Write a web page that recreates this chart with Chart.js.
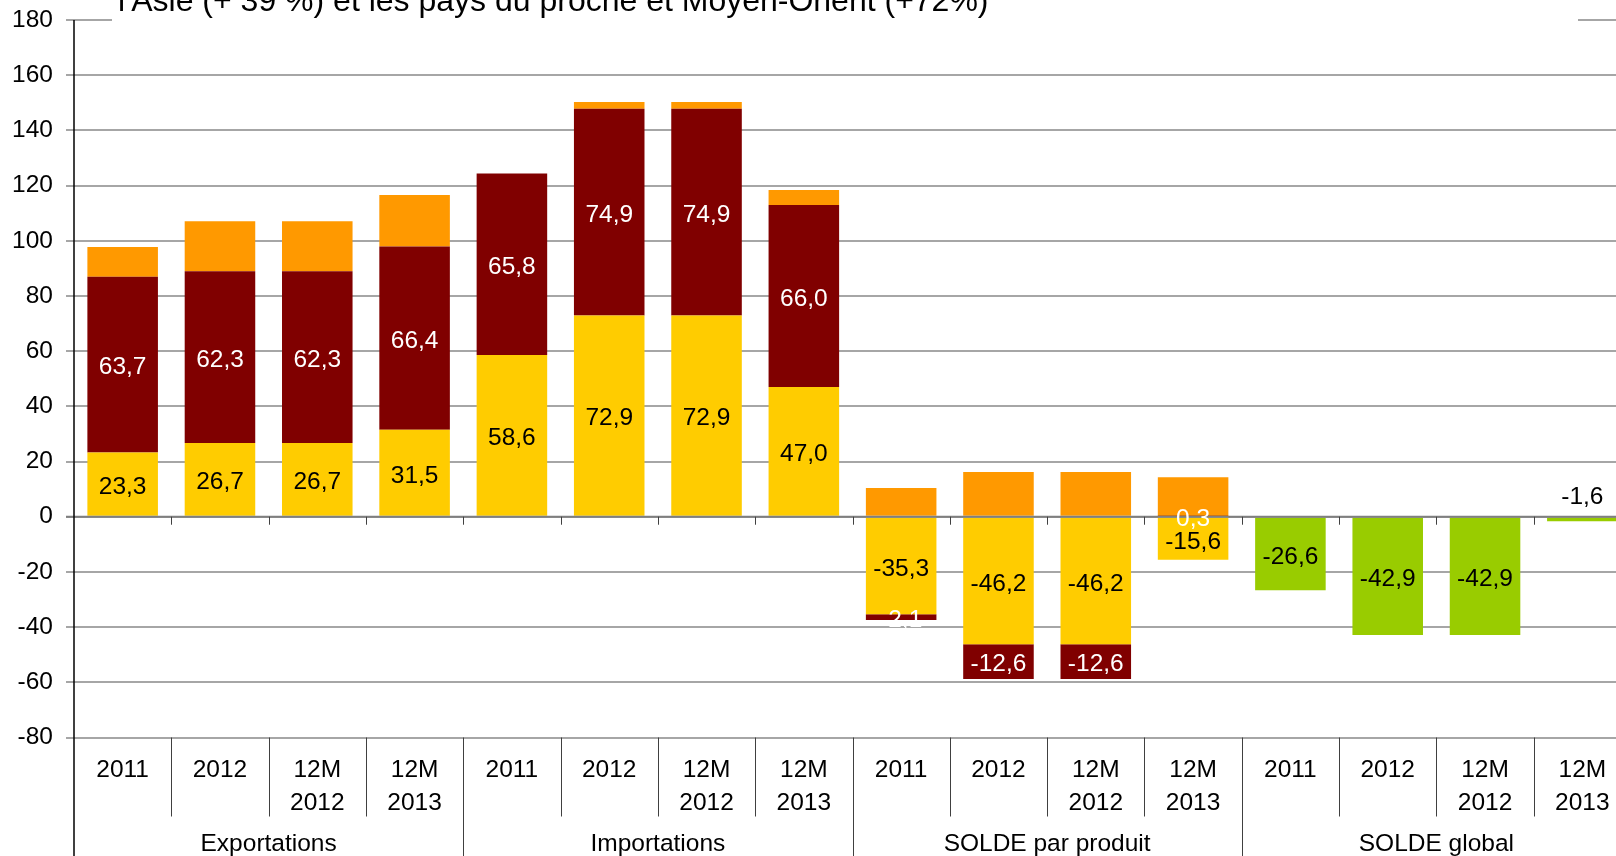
<!DOCTYPE html>
<html lang="fr">
<head>
<meta charset="utf-8">
<title>Échanges par produit</title>
<script src="https://cdn.jsdelivr.net/npm/chart.js@4.4.1/dist/chart.umd.min.js"></script>
<style>
    html, body { margin: 0; padding: 0; background: #ffffff; overflow: hidden; }
    #wrap { position: relative; width: 1616px; height: 856px; overflow: hidden; }
    canvas { display: block; }
</style>
</head>
<body>
<div id="wrap"><canvas id="chart-ctx" width="1631" height="856"></canvas></div>
<script>
// categories: 4 groups x 4 periods
const groupes = ["Exportations", "Importations", "SOLDE par produit", "SOLDE global"];
const periodes = ["2011", "2012", ["12M", "2012"], ["12M", "2013"]];

// stacked series, one value per category (null = no bar)
const serieJaune = [23.3, 26.7, 26.7, 31.5, 58.6, 72.9, 72.9, 47.0, -35.3, -46.2, -46.2, -15.6, null, null, null, null];
const serieBordeaux = [63.7, 62.3, 62.3, 66.4, 65.8, 74.9, 74.9, 66.0, -2.1, -12.6, -12.6, 0.3, null, null, null, null];
const serieOrange = [10.7, 18.1, 18.1, 18.7, 0, 2.5, 2.5, 5.4, 10.4, 16.2, 16.2, 14.0, null, null, null, null];
const soldeGlobal = [null, null, null, null, null, null, null, null, null, null, null, null, -26.6, -42.9, -42.9, -1.6];

// y axis ticks
const yMin = -80;
const yMax = 180;
const yStep = 20;

const titreLigne = "l'Asie (+ 39 %) et les pays du proche et Moyen-Orient (+72%)";

const labels = groupes.flatMap(() => periodes);
const couleursEtiquettes = ["#000000", "#ffffff", null, "#000000"];
const police = '"Liberation Sans", Arial, sans-serif';
const taille = 24.5;

function formatFr(v) {
    return v.toFixed(1).replace(".", ",");
}

const decorPlugin = {
    id: "decor",
    afterDatasetsDraw(chart) {
        const ctx = chart.ctx;
        const area = chart.chartArea;
        const yScale = chart.scales.y;
        const y0 = yScale.getPixelForValue(0);

        // zero line drawn over the bars
        ctx.save();
        ctx.strokeStyle = "#7f7f7f";
        ctx.lineWidth = 2;
        ctx.beginPath();
        ctx.moveTo(area.left - 8, y0);
        ctx.lineTo(area.right, y0);
        ctx.stroke();

        // small ticks under the zero line between categories
        const slot = (area.right - area.left) / labels.length;
        ctx.strokeStyle = "#404040";
        ctx.lineWidth = 1;
        for (let i = 1; i < labels.length; i++) {
            const x = Math.round(area.left + i * slot) + 0.5;
            ctx.beginPath();
            ctx.moveTo(x, y0);
            ctx.lineTo(x, y0 + 8);
            ctx.stroke();
        }

        // value labels
        ctx.font = taille + "px " + police;
        ctx.textAlign = "center";
        ctx.textBaseline = "middle";
        chart.data.datasets.forEach((ds, di) => {
            const color = couleursEtiquettes[di];
            if (!color) return;
            const meta = chart.getDatasetMeta(di);
            meta.data.forEach((bar, i) => {
                const v = ds.data[i];
                if (v === null || v === undefined) return;
                const p = bar.getProps(["x", "y", "base"], true);
                let cy = (p.y + p.base) / 2;
                // too thin for an inside label: put it above the axis
                if (di === 3 && Math.abs(p.base - p.y) < 20) {
                    cy = Math.min(p.y, p.base) - 23;
                }
                ctx.fillStyle = color;
                ctx.fillText(formatFr(v), p.x, cy + 3);
            });
        });
        ctx.restore();
    },
    afterDraw(chart) {
        const ctx = chart.ctx;
        const area = chart.chartArea;
        const H = chart.height;
        const slot = (area.right - area.left) / labels.length;

        ctx.save();
        // title box hides the top gridline
        ctx.fillStyle = "#ffffff";
        ctx.fillRect(112, 0, 1578 - 112, 24);
        ctx.fillStyle = "#000000";
        ctx.font = "32px " + police;
        ctx.textAlign = "left";
        ctx.textBaseline = "alphabetic";
        ctx.fillText(titreLigne, 118, 11);

        // left axis line down to the bottom
        ctx.strokeStyle = "#000000";
        ctx.lineWidth = 1.5;
        ctx.beginPath();
        ctx.moveTo(area.left, area.top);
        ctx.lineTo(area.left, H);
        ctx.stroke();

        // separators of the category table
        ctx.strokeStyle = "#404040";
        ctx.lineWidth = 1;
        for (let i = 1; i < labels.length; i++) {
            const x = Math.round(area.left + i * slot) + 0.5;
            const bas = i % periodes.length === 0 ? H : area.bottom + 79;
            ctx.beginPath();
            ctx.moveTo(x, area.bottom);
            ctx.lineTo(x, bas);
            ctx.stroke();
        }

        // category and group labels
        ctx.fillStyle = "#000000";
        ctx.font = taille + "px " + police;
        ctx.textAlign = "center";
        labels.forEach((lab, i) => {
            const cx = area.left + (i + 0.5) * slot;
            const lignes = Array.isArray(lab) ? lab : [lab];
            lignes.forEach((t, k) => {
                ctx.fillText(t, cx, area.bottom + 39.5 + k * 33);
            });
        });
        groupes.forEach((g, gi) => {
            const cx = area.left + (gi + 0.5) * slot * periodes.length;
            ctx.fillText(g, cx, area.bottom + 113);
        });
        ctx.restore();
    }
};

Chart.defaults.font.family = police;
Chart.defaults.color = "#000000";

const ctxChart = document.getElementById("chart-ctx");

new Chart(ctxChart, {
    type: "bar",
    data: {
        labels: labels,
        datasets: [
            { label: "Série 1", data: serieJaune, backgroundColor: "#FFCC00" },
            { label: "Série 2", data: serieBordeaux, backgroundColor: "#800000" },
            { label: "Série 3", data: serieOrange, backgroundColor: "#FF9900" },
            { label: "Solde global", data: soldeGlobal, backgroundColor: "#99CC00" },
        ]
    },
    options: {
        responsive: false,
        animation: false,
        events: [],
        layout: {
            padding: { top: 20, left: 0, right: 0, bottom: 0 },
        },
        datasets: {
            bar: {
                categoryPercentage: 1,
                barPercentage: 0.725,
                borderWidth: 0,
            }
        },
        plugins: {
            legend: { display: false },
            title: { display: false },
            tooltip: { enabled: false },
        },
        scales: {
            x: {
                stacked: true,
                ticks: { display: false },
                grid: { display: false },
                border: { display: false },
                afterFit(scale) {
                    scale.height = 118.5;
                },
            },
            y: {
                stacked: true,
                min: yMin,
                max: yMax,
                ticks: {
                    stepSize: yStep,
                    padding: 13,
                    font: { size: taille },
                    color: "#000000",
                },
                grid: {
                    color: "#a6a6a6",
                    lineWidth: 2,
                    tickLength: 8,
                },
                border: { display: false },
                afterFit(scale) {
                    scale.width = 74;
                    scale.paddingTop = 0;
                    scale.paddingBottom = 0;
                },
            }
        }
    },
    plugins: [decorPlugin],
});
</script>
</body>
</html>
